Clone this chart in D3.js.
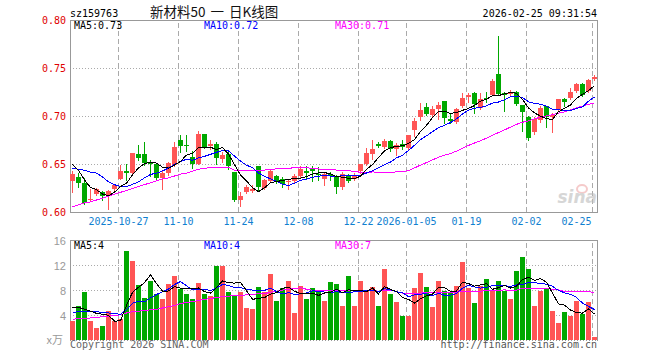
<!DOCTYPE html>
<html lang="zh-CN">
<head>
<meta charset="UTF-8">
<title>sz159763 日K线图</title>
<script src="https://cdn.jsdelivr.net/npm/d3@7"></script>
<style>
  body { margin: 0; background: #fff; overflow: hidden; }
  svg { display: block; }
  .mono { font-family: "DejaVu Sans Mono", monospace; font-size: 10px; }
</style>
</head>
<body>
<div id="chart"></div>
<script>
// trading days shown on the chart
const dates = [
  "2025-10-15","2025-10-16","2025-10-17","2025-10-20","2025-10-21","2025-10-22","2025-10-23","2025-10-24",
  "2025-10-27","2025-10-28","2025-10-29","2025-10-30","2025-10-31",
  "2025-11-03","2025-11-04","2025-11-05","2025-11-06","2025-11-07","2025-11-10","2025-11-11","2025-11-12",
  "2025-11-13","2025-11-14","2025-11-17","2025-11-18","2025-11-19","2025-11-20","2025-11-21","2025-11-24",
  "2025-11-25","2025-11-26","2025-11-27","2025-11-28",
  "2025-12-01","2025-12-02","2025-12-03","2025-12-04","2025-12-05","2025-12-08","2025-12-09","2025-12-10",
  "2025-12-11","2025-12-12","2025-12-15","2025-12-16","2025-12-17","2025-12-18","2025-12-19","2025-12-22",
  "2025-12-23","2025-12-24","2025-12-25","2025-12-26","2025-12-29","2025-12-30","2025-12-31",
  "2026-01-05","2026-01-06","2026-01-07","2026-01-08","2026-01-09","2026-01-12","2026-01-13","2026-01-14",
  "2026-01-15","2026-01-16","2026-01-19","2026-01-20","2026-01-21","2026-01-22","2026-01-23","2026-01-26",
  "2026-01-27","2026-01-28","2026-01-29","2026-01-30",
  "2026-02-02","2026-02-03","2026-02-04","2026-02-05","2026-02-06","2026-02-09","2026-02-10","2026-02-11",
  "2026-02-12","2026-02-13","2026-02-24","2026-02-25"
];

const openP = [
  0.633,0.637,0.631,0.613,0.619,0.621,0.617,0.624,0.635,0.643,0.641,0.661,0.661,0.653,0.650,0.636,
  0.641,0.649,0.675,0.670,0.658,0.650,0.682,0.669,0.671,0.656,0.661,0.642,0.613,0.621,0.622,0.648,
  0.626,0.633,0.638,0.635,0.632,0.633,0.638,0.643,0.646,0.640,0.635,0.640,0.638,0.627,0.638,0.635,
  0.643,0.650,0.661,0.671,0.668,0.674,0.666,0.671,0.667,0.686,0.700,0.710,0.702,0.708,0.716,0.697,
  0.694,0.711,0.720,0.724,0.709,0.719,0.722,0.744,0.725,0.723,0.726,0.712,0.699,0.684,0.696,0.711,
  0.699,0.707,0.718,0.719,0.727,0.734,0.727,0.739
];
const highP = [
  0.643,0.641,0.636,0.624,0.626,0.622,0.623,0.629,0.649,0.650,0.662,0.670,0.673,0.655,0.651,0.644,
  0.653,0.673,0.681,0.681,0.664,0.685,0.682,0.675,0.673,0.663,0.664,0.642,0.621,0.629,0.629,0.648,
  0.635,0.644,0.639,0.637,0.635,0.640,0.648,0.648,0.648,0.647,0.642,0.642,0.639,0.642,0.640,0.641,
  0.651,0.667,0.676,0.673,0.677,0.675,0.672,0.676,0.681,0.698,0.714,0.714,0.711,0.715,0.716,0.703,
  0.709,0.724,0.725,0.726,0.725,0.726,0.739,0.784,0.726,0.728,0.727,0.712,0.701,0.699,0.711,0.711,
  0.704,0.718,0.719,0.730,0.735,0.735,0.739,0.743
];
const lowP = [
  0.621,0.627,0.609,0.612,0.618,0.613,0.604,0.623,0.635,0.634,0.641,0.655,0.649,0.638,0.635,0.625,
  0.639,0.648,0.663,0.664,0.646,0.650,0.667,0.666,0.651,0.653,0.645,0.612,0.607,0.620,0.621,0.623,
  0.624,0.632,0.631,0.627,0.625,0.632,0.636,0.636,0.633,0.634,0.629,0.634,0.620,0.624,0.632,0.634,
  0.641,0.649,0.656,0.668,0.667,0.664,0.660,0.666,0.666,0.680,0.696,0.702,0.700,0.697,0.693,0.693,
  0.693,0.710,0.715,0.704,0.708,0.715,0.722,0.723,0.706,0.722,0.712,0.685,0.675,0.682,0.694,0.689,
  0.684,0.706,0.711,0.718,0.726,0.721,0.726,0.738
];
const closeP = [
  0.640,0.631,0.610,0.614,0.624,0.617,0.622,0.629,0.643,0.641,0.662,0.657,0.652,0.650,0.636,0.641,
  0.652,0.668,0.669,0.669,0.650,0.682,0.668,0.671,0.657,0.660,0.648,0.613,0.617,0.627,0.624,0.627,
  0.634,0.643,0.633,0.630,0.633,0.638,0.645,0.641,0.643,0.639,0.640,0.638,0.627,0.640,0.633,0.639,
  0.650,0.662,0.666,0.669,0.674,0.666,0.670,0.668,0.681,0.695,0.707,0.703,0.708,0.712,0.698,0.695,
  0.708,0.719,0.722,0.713,0.718,0.718,0.737,0.723,0.722,0.726,0.713,0.705,0.678,0.697,0.709,0.699,
  0.702,0.718,0.715,0.726,0.734,0.722,0.738,0.741
];
// volume, x万
const volume = [
  3.1,5.6,7.8,3.2,2.0,2.4,4.8,3.1,3.4,14.4,12.8,8.9,6.8,9.6,7.5,6.6,
  9.1,10.4,8.3,7.5,6.6,9.2,7.5,7.1,11.9,12.0,7.7,7.2,7.8,5.2,5.0,8.6,
  7.7,10.6,6.4,8.4,9.6,4.4,8.8,6.6,8.4,7.9,6.3,9.4,9.1,5.5,10.3,5.6,
  9.6,8.0,8.6,5.5,11.4,7.4,6.2,3.9,4.0,8.4,10.8,8.6,5.3,9.6,8.0,7.8,
  8.8,12.5,8.4,6.0,8.8,9.8,8.0,9.6,8.0,6.6,11.2,13.4,11.4,5.5,8.0,8.3,
  4.7,2.8,4.5,4.0,6.4,4.2,6.1,0.5
];

// moving-average values before a full window exists
const priceMa5Head = [0.650,0.644,0.634,0.626];
const priceMa10Head = [0.646,0.645,0.644,0.642,0.641,0.637,0.632,0.629,0.627];
const priceMa30Head = [
  0.606,0.608,0.610,0.611,0.613,0.615,0.617,0.619,0.621,0.623,0.625,0.627,0.629,0.631,0.633,
  0.635,0.636,0.638,0.640,0.641,0.643,0.645,0.646,0.647,0.647,0.647,0.647,0.644,0.644
];
const volMa5Head = [5.2,5.3,5.0,4.7];
const volMa10Head = [4.5,4.6,4.7,4.7,4.6,4.5,4.4,4.3,4.2];
const volMa30Head = [
  3.4,3.5,3.5,3.6,3.7,3.8,3.9,4.0,4.1,4.4,4.6,4.7,4.8,4.9,5.0,
  5.2,5.4,5.6,5.9,6.1,6.2,6.4,6.6,6.7,6.9,7.0,7.1,7.2,7.2
];

const priceTicks = [0.60,0.65,0.70,0.75,0.80];
const volTicks = [4,8,12,16];
const dateTicks = ["2025-10-27","2025-11-10","2025-11-24","2025-12-08","2025-12-22",
                   "2026-01-05","2026-01-19","2026-02-02","2026-02-25"];
const dateTickLabels = ["2025-10-27","11-10","11-24","12-08","12-22",
                        "2026-01-05","01-19","02-02","02-25"];

const RED = "#ff5555", GREEN = "#00a800";
const left = 70, right = 597;
const pTop = 20.5, pBottom = 212.5, vTop = 240.5, vBottom = 340.5;

function movingAvg(values, n, head) {
    return values.map((v, i) => i < n - 1 ? head[i] : d3.mean(values.slice(i - n + 1, i + 1)));
}

const svg = d3.select("#chart").append("svg")
    .attr("width", 660)
    .attr("height", 360);

const x = d3.scaleBand().domain(dates).range([left, right]).paddingInner(1 / 6).paddingOuter(0);
const y = d3.scaleLinear().domain([0.60, 0.80]).range([pBottom, pTop]);
const yv = d3.scaleLinear().domain([0, 16]).range([vBottom, vTop]);
const x0 = d => Math.round(x(d));
const xc = d => x0(d) + 2.5;

// grid lines
const grid = svg.append("g").attr("shape-rendering", "crispEdges");
[y(0.75), y(0.70), y(0.65), yv(12), yv(8), yv(4)].forEach(gy => {
    const py = Math.round(gy - 0.5) + 0.5;
    grid.append("line")
        .attr("x1", left).attr("x2", right + 1)
        .attr("y1", py).attr("y2", py)
        .attr("stroke", "#aaa").attr("stroke-dasharray", "1,2");
});
dateTicks.forEach(d => {
    [[pTop, pBottom], [vTop, vBottom]].forEach(([a, b]) => {
        grid.append("line")
            .attr("x1", x0(d) + 0.5).attr("x2", x0(d) + 0.5)
            .attr("y1", a + 2).attr("y2", b)
            .attr("stroke", "#aaa").attr("stroke-dasharray", "5,3");
    });
});

// frames
const frame = svg.append("g").attr("shape-rendering", "crispEdges")
    .attr("fill", "none").attr("stroke", "#999");
frame.append("rect").attr("x", left + 0.5).attr("y", pTop).attr("width", right - left).attr("height", pBottom - pTop);
frame.append("path").attr("d", `M${left + 0.5},${vBottom}V${vTop}H${right + 0.5}V${vBottom}`);
frame.append("line").attr("x1", left).attr("x2", right + 1).attr("y1", vBottom).attr("y2", vBottom)
    .attr("stroke-dasharray", "1,2");

// sina watermark
const wm = svg.append("g").attr("opacity", 0.6);
wm.append("ellipse").attr("cx", 582).attr("cy", 189).attr("rx", 5).attr("ry", 4)
    .attr("fill", "none").attr("stroke", "#f0a8a8").attr("stroke-width", 2);
wm.append("text").attr("x", 597).attr("y", 203).attr("text-anchor", "end")
    .attr("font-family", "DejaVu Sans").attr("font-style", "italic").attr("font-weight", "bold")
    .attr("font-size", 17).attr("fill", "#bbb").text("sina");

// candles
const candles = svg.append("g").attr("shape-rendering", "crispEdges")
    .selectAll("g").data(dates).enter().append("g")
    .attr("fill", (d, i) => closeP[i] >= openP[i] ? RED : GREEN)
    .attr("stroke", (d, i) => closeP[i] >= openP[i] ? RED : GREEN);

candles.append("line")
    .attr("x1", d => xc(d)).attr("x2", d => xc(d))
    .attr("y1", (d, i) => Math.round(y(highP[i])))
    .attr("y2", (d, i) => Math.round(y(lowP[i])) + 1);

candles.append("rect")
    .attr("stroke", "none")
    .attr("x", d => x0(d))
    .attr("width", x.bandwidth())
    .attr("y", (d, i) => Math.round(y(Math.max(openP[i], closeP[i]))))
    .attr("height", (d, i) => Math.max(1, Math.round(y(Math.min(openP[i], closeP[i]))) - Math.round(y(Math.max(openP[i], closeP[i])))));

// volume bars
svg.append("g").attr("shape-rendering", "crispEdges")
    .selectAll("rect").data(dates).enter().append("rect")
    .attr("x", d => x0(d))
    .attr("width", x.bandwidth())
    .attr("y", (d, i) => Math.round(yv(volume[i])))
    .attr("height", (d, i) => Math.round(vBottom - 0.5) - Math.round(yv(volume[i])))
    .attr("fill", (d, i) => closeP[i] >= openP[i] ? RED : GREEN);

// moving averages
function drawMa(values, scale, color) {
    svg.append("path")
        .datum(values)
        .attr("fill", "none")
        .attr("stroke", color)
        .attr("stroke-width", 1)
        .attr("shape-rendering", "crispEdges")
        .attr("d", d3.line().x((d, i) => xc(dates[i])).y(d => scale(d)));
}
drawMa(movingAvg(closeP, 30, priceMa30Head), y, "#ff00ff");
drawMa(movingAvg(closeP, 10, priceMa10Head), y, "#0000ff");
drawMa(movingAvg(closeP, 5, priceMa5Head), y, "#000");
drawMa(movingAvg(volume, 30, volMa30Head), yv, "#ff00ff");
drawMa(movingAvg(volume, 10, volMa10Head), yv, "#0000ff");
drawMa(movingAvg(volume, 5, volMa5Head), yv, "#000");

// axes
const priceAxis = svg.append("g")
    .attr("transform", `translate(${left},0)`)
    .call(d3.axisLeft(y).tickValues(priceTicks).tickFormat(d3.format(".2f")).tickSize(0).tickPadding(4));
priceAxis.select(".domain").remove();
priceAxis.attr("font-family", "DejaVu Sans Mono, monospace").attr("font-size", 10);
priceAxis.selectAll("text").attr("fill", "#e00000");

const volAxis = svg.append("g")
    .attr("transform", `translate(${left},0)`)
    .call(d3.axisLeft(yv).tickValues(volTicks).tickSize(0).tickPadding(4));
volAxis.select(".domain").remove();
volAxis.attr("font-family", "Liberation Sans, Arial, sans-serif").attr("font-size", 11);
volAxis.selectAll("text").attr("fill", "#999");

const dateAxis = svg.append("g")
    .attr("transform", `translate(${-x.bandwidth() / 2 + 0.5},${pBottom})`)
    .call(d3.axisBottom(x).tickValues(dateTicks).tickFormat((d, i) => dateTickLabels[i]).tickSize(0).tickPadding(5));
dateAxis.select(".domain").remove();
dateAxis.attr("font-family", "DejaVu Sans Mono, monospace").attr("font-size", 10);
dateAxis.selectAll("text").attr("fill", "#1080d0");
dateAxis.selectAll(".tick:last-of-type text").attr("text-anchor", "end").attr("x", -1);

// header and legends
svg.append("text").attr("class", "mono").attr("x", 70).attr("y", 17).attr("fill", "#000").text("sz159763");
svg.append("text").attr("x", 150).attr("y", 17)
    .attr("font-family", "Noto Sans CJK SC").attr("font-size", 13.5).attr("fill", "#111")
    .attr("word-spacing", 2)
    .text("新材料50 一 日K线图");
svg.append("text").attr("class", "mono").attr("x", 597).attr("y", 17).attr("text-anchor", "end")
    .attr("fill", "#000").text("2026-02-25 09:31:54");

const legends = [
    ["MA5:0.73", 74, 29, "#000"], ["MA10:0.72", 204, 29, "#0000ff"], ["MA30:0.71", 335, 29, "#ff00ff"],
    ["MA5:4", 74, 249, "#000"], ["MA10:4", 204, 249, "#0000ff"], ["MA30:7", 335, 249, "#ff00ff"]
];
legends.forEach(([t, lx, ly, c]) => {
    svg.append("text").attr("class", "mono").attr("x", lx).attr("y", ly).attr("fill", c).text(t);
});

svg.append("text").attr("x", 63).attr("y", 344).attr("text-anchor", "end")
    .attr("font-family", "Noto Sans CJK SC").attr("font-size", 11).attr("fill", "#999").text("x万");
svg.append("text").attr("class", "mono").attr("x", 70).attr("y", 348).attr("fill", "#666")
    .text("Copyright 2026 SINA.COM");
svg.append("text").attr("class", "mono").attr("x", 597).attr("y", 348).attr("text-anchor", "end")
    .attr("fill", "#555").text("http://finance.sina.com.cn");
</script>
</body>
</html>
